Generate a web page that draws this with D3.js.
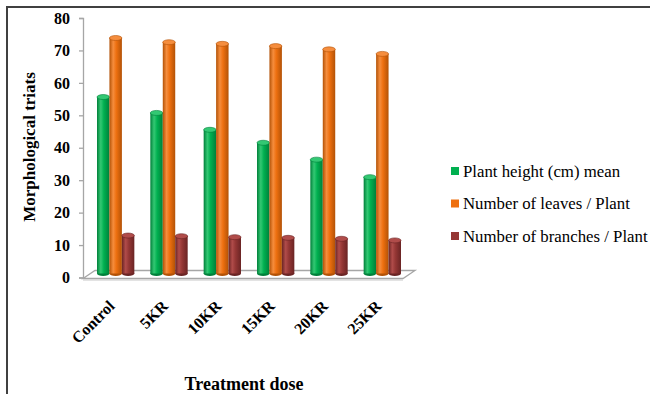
<!DOCTYPE html>
<html>
<head>
<meta charset="utf-8">
<script src="https://cdn.jsdelivr.net/npm/d3@7"></script>
<style>
  body { margin: 0; background: #fff; }
</style>
</head>
<body>
<div id="chart"></div>
<script>
var categories = ["Control", "5KR", "10KR", "15KR", "20KR", "25KR"];
var seriesNames = ["Plant height (cm) mean", "Number of leaves / Plant", "Number of branches / Plant"];
var plantHeight = [54.4, 49.5, 44.3, 40.3, 35.1, 29.7];
var leaves = [72.6, 71.3, 70.8, 70.1, 69.1, 67.7];
var branches = [11.7, 11.5, 11.2, 11.0, 10.7, 10.2];
var yTicks = [0, 10, 20, 30, 40, 50, 60, 70, 80];
var colors = ["#00b050", "#ee7010", "#953735"];
var darkColors = ["#00803a", "#b35206", "#6a2424"];
var lightColors = ["#33c873", "#f58d3d", "#b04c4a"];

var serif = "'Liberation Serif', 'Times New Roman', Times, serif";
var width = 650, height = 394;
var plot = { left: 83, right: 403, top: 18, bottom: 277.5 };
var depth = { dx: 12, dy: -8 };

var svg = d3.select("#chart").append("svg")
  .attr("width", width)
  .attr("height", height)
  .style("font-family", serif);

// gradients for cylinders
var defs = svg.append("defs");
colors.forEach(function(c, i) {
  var g = defs.append("linearGradient").attr("id", "cyl" + i)
    .attr("x1", "0%").attr("x2", "100%").attr("y1", "0%").attr("y2", "0%");
  g.append("stop").attr("offset", "0%").attr("stop-color", darkColors[i]);
  g.append("stop").attr("offset", "30%").attr("stop-color", lightColors[i]);
  g.append("stop").attr("offset", "55%").attr("stop-color", colors[i]);
  g.append("stop").attr("offset", "100%").attr("stop-color", darkColors[i]);
});

// outer frame
svg.append("rect")
  .attr("x", 7).attr("y", 7)
  .attr("width", 700).attr("height", 420)
  .attr("fill", "none")
  .attr("stroke", "#404040")
  .attr("stroke-width", 2);

var yScale = d3.scaleLinear().domain([0, 80]).range([plot.bottom, plot.top]);
var xScale = d3.scaleBand().domain(categories).range([plot.left, plot.right]).paddingInner(0.3).paddingOuter(0.15);
var xSub = d3.scaleBand().domain(d3.range(3)).range([0, xScale.bandwidth()]);

// floor
var fl = plot.left, fr = plot.right, fb = plot.bottom;
svg.append("path")
  .attr("d", "M" + fl + "," + (fb + 1) + "L" + fr + "," + (fb + 1) + "L" + (fr + depth.dx) + "," + (fb + 1 + depth.dy) +
             "L" + (fl + depth.dx) + "," + (fb + 1 + depth.dy) + "Z")
  .attr("fill", "#fff")
  .attr("stroke", "#a6a6a6")
  .attr("stroke-width", 1.3);
svg.append("line")
  .attr("x1", fl).attr("x2", fr).attr("y1", fb + 2.5).attr("y2", fb + 2.5)
  .attr("stroke", "#c8c8c8").attr("stroke-width", 1);

// y axis
var yAxis = d3.axisLeft(yScale).tickValues(yTicks).tickSize(4).tickPadding(9);
var yg = svg.append("g")
  .attr("transform", "translate(" + plot.left + ",0)")
  .call(yAxis)
  .attr("font-family", serif);
yg.select(".domain").attr("stroke", "#a6a6a6").attr("stroke-width", 1.3);
yg.selectAll(".tick line").attr("stroke", "#a6a6a6").attr("stroke-width", 1.3);
yg.selectAll(".tick text")
  .attr("font-size", 16)
  .attr("font-weight", "bold")
  .attr("fill", "#000");

var series = [plantHeight, leaves, branches];
var ry = 2.5;
var offX = depth.dx / 2, offY = depth.dy / 2;

series.forEach(function(vals, si) {
  var g = svg.append("g").attr("class", "series" + si);
  var bars = g.selectAll("g.bar")
    .data(categories.map(function(c, i) { return { cat: c, v: vals[i] }; }))
    .enter().append("g").attr("class", "bar");
  var bw = xSub.bandwidth();
  function bx(d) { return xScale(d.cat) + xSub(si) + offX; }
  bars.append("ellipse")
    .attr("cx", function(d) { return bx(d) + bw / 2; })
    .attr("cy", yScale(0) + offY)
    .attr("rx", bw / 2).attr("ry", ry)
    .attr("fill", darkColors[si]);
  bars.append("rect")
    .attr("x", bx)
    .attr("y", function(d) { return yScale(d.v) + offY; })
    .attr("width", bw)
    .attr("height", function(d) { return yScale(0) - yScale(d.v); })
    .attr("fill", "url(#cyl" + si + ")");
  bars.append("ellipse")
    .attr("cx", function(d) { return bx(d) + bw / 2; })
    .attr("cy", function(d) { return yScale(d.v) + offY; })
    .attr("rx", bw / 2).attr("ry", ry)
    .attr("fill", lightColors[si])
    .attr("stroke", darkColors[si])
    .attr("stroke-width", 0.6);
});

// x labels
svg.selectAll(".xlabel")
  .data(categories)
  .enter().append("text")
  .attr("class", "xlabel")
  .attr("transform", function(d) {
    return "translate(" + (xScale(d) + xScale.bandwidth() / 2 + 6) + "," + 307 + ") rotate(-45)";
  })
  .attr("text-anchor", "end")
  .attr("font-size", 16)
  .attr("font-weight", "bold")
  .text(function(d) { return d; });

// axis titles
svg.append("text")
  .attr("transform", "translate(35,147) rotate(-90)")
  .attr("text-anchor", "middle")
  .attr("font-size", 17)
  .attr("font-weight", "bold")
  .text("Morphological triats");

svg.append("text")
  .attr("x", 244).attr("y", 390)
  .attr("text-anchor", "middle")
  .attr("font-size", 18)
  .attr("font-weight", "bold")
  .text("Treatment dose");

// legend
var legend = svg.append("g").attr("transform", "translate(451,171)");
var item = legend.selectAll("g")
  .data(seriesNames)
  .enter().append("g")
  .attr("transform", function(d, i) { return "translate(0," + (i * 32.5) + ")"; });
item.append("rect")
  .attr("x", 0).attr("y", -4)
  .attr("width", 8).attr("height", 8)
  .attr("fill", function(d, i) { return colors[i]; });
item.append("text")
  .attr("x", 12).attr("y", 5.5)
  .attr("font-size", 16.8)
  .text(function(d) { return d; });
</script>
</body>
</html>
